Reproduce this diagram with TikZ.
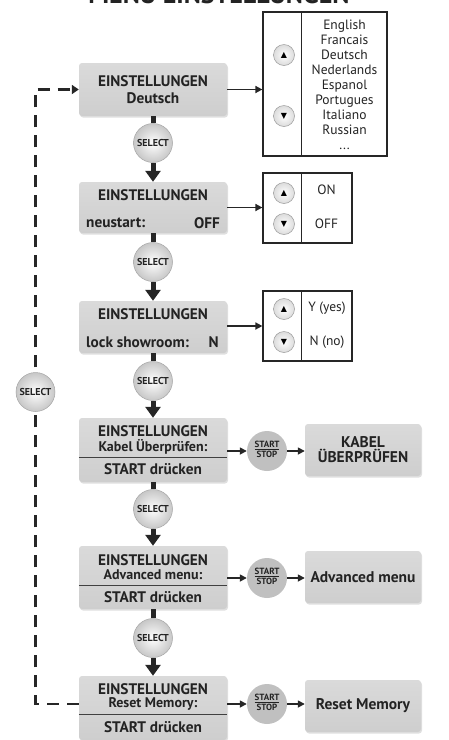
\documentclass[tikz,border=0pt]{standalone}
\usepackage{fontspec}
\setmainfont{PT Sans}
\newfontfamily\symfont{DejaVu Sans}
\usetikzlibrary{arrows.meta,shadows,calc}
\definecolor{boxtop}{RGB}{218,218,218}
\definecolor{boxbot}{RGB}{206,206,206}
\definecolor{ssgray}{RGB}{192,192,192}
\definecolor{txt}{RGB}{35,35,35}
\begin{document}
\begin{tikzpicture}[x=1pt,y=-1pt,
  menubox/.style={rectangle, rounded corners=3pt, top color=boxtop, bottom color=boxbot, draw=none,
    minimum width=148pt, inner sep=0,
    drop shadow={shadow xshift=1pt,shadow yshift=-1.5pt,opacity=0.25}},
  resbox/.style={menubox, minimum width=116pt, minimum height=52pt, align=center,
    font=\bfseries\fontsize{15.5}{15}\selectfont, text=txt},
  hdr/.style={inner sep=0, font=\bfseries\fontsize{15.3}{17}\selectfont, text=txt},
  sub/.style={inner sep=0, font=\bfseries\fontsize{14}{15}\selectfont, text=txt},
  selbtn/.style={circle, minimum size=39pt, inner sep=0, draw=black!35, line width=0.5pt,
    inner color=white, outer color=black!22, font=\bfseries\fontsize{10}{10}\selectfont, text=txt},
  ssbtn/.style={circle, minimum size=40pt, inner sep=0, fill=ssgray, text=txt,
    font=\bfseries\fontsize{9}{9}\selectfont},
  udbtn/.style={circle, minimum size=21pt, inner sep=0, draw=black!40, line width=0.5pt,
    inner color=white, outer color=black!14, font=\symfont\fontsize{8}{8}\selectfont},
  listbox/.style={rectangle, draw=black!85, line width=1.2pt, inner sep=0},
  listtxt/.style={inner sep=0, font=\fontsize{13.5}{15}\selectfont, text=txt, align=center},
  stub/.style={line width=5pt, black!85},
  bigarrow/.style={line width=5pt, black!85, -{Triangle[width=15pt,length=11pt]}},
  smallarrow/.style={line width=1.6pt, black!85, -{Triangle[width=7pt,length=7pt]}},
  dashconn/.style={line width=2.8pt, black!85, dash pattern=on 12pt off 8pt, -{Triangle[width=9pt,length=7pt]}}
]
\useasboundingbox (0,0) rectangle (449,740);
\node[anchor=base, font=\bfseries\fontsize{26}{26}\selectfont, text=txt, inner sep=0] (title) at (219,3) {MENÜ EINSTELLUNGEN};

% main boxes
\node[menubox, minimum height=53pt] (b1) at (153,89.5) {};
\node[menubox, minimum height=51pt] (b2) at (153,207.5) {};
\node[menubox, minimum height=52pt] (b3) at (153,327) {};
\node[menubox, minimum height=64pt] (b4) at (153,450) {};
\node[menubox, minimum height=63pt] (b5) at (153,577.5) {};
\node[menubox, minimum height=64pt] (b6) at (153,708) {};

% box texts
\node[hdr] (b1t) at (153,81) {EINSTELLUNGEN};
\node[hdr] (b1v) at (153,98.5) {Deutsch};
\node[hdr] (b2t) at (153,195) {EINSTELLUNGEN};
\node[hdr, anchor=west] (b2l) at (86,223) {neustart:};
\node[hdr, anchor=east] (b2r) at (220,223) {OFF};
\node[hdr] (b3t) at (153,314) {EINSTELLUNGEN};
\node[hdr, anchor=west] (b3l) at (86,342) {lock showroom:};
\node[hdr, anchor=east] (b3r) at (219,342) {N};
\node[hdr] (b4t) at (153,431) {EINSTELLUNGEN};
\node[sub] (b4s) at (153,447) {Kabel Überprüfen:};
\node[hdr] (b4b) at (153,469) {START drücken};
\node[hdr] (b5t) at (153,560) {EINSTELLUNGEN};
\node[sub] (b5s) at (153,575) {Advanced menu:};
\node[hdr] (b5b) at (153,597) {START drücken};
\node[hdr] (b6t) at (153,689) {EINSTELLUNGEN};
\node[sub] (b6s) at (153,704) {Reset Memory:};
\node[hdr] (b6b) at (153,727) {START drücken};
\draw[black!75, line width=0.8pt] ($(b4.west)+(0,7)$) -- ($(b4.east)+(0,7)$);
\draw[black!75, line width=0.8pt] ($(b5.west)+(0,7.5)$) -- ($(b5.east)+(0,7.5)$);
\draw[black!75, line width=0.8pt] ($(b6.west)+(0,6)$) -- ($(b6.east)+(0,6)$);

% select buttons
\node[selbtn] (s1) at (153,143) {SELECT};
\node[selbtn] (s2) at (153,262) {SELECT};
\node[selbtn] (s3) at (153,381) {SELECT};
\node[selbtn] (s4) at (153,509) {SELECT};
\node[selbtn] (s5) at (153,638) {SELECT};

\draw[stub] (b1.south) -- (s1.north);
\draw[bigarrow] (s1.south) -- (b2.north);
\draw[stub] (b2.south) -- (s2.north);
\draw[bigarrow] (s2.south) -- (b3.north);
\draw[stub] (b3.south) -- (s3.north);
\draw[bigarrow] (s3.south) -- (b4.north);
\draw[stub] (b4.south) -- (s4.north);
\draw[bigarrow] (s4.south) -- (b5.north);
\draw[stub] (b5.south) -- (s5.north);
\draw[bigarrow] (s5.south) -- (b6.north);

% language list
\node[listbox, minimum width=124pt, minimum height=144pt] (lang) at (325,84) {};
\draw[black!85, line width=1pt] ($(lang.north west)+(39,0)$) -- ($(lang.south west)+(39,0)$);
\node[listtxt] (langt) at (344.5,85) {English\\Francais\\Deutsch\\Nederlands\\Espanol\\Portugues\\Italiano\\Russian\\...};
\node[udbtn] (lu) at (284,55) {▲};
\node[udbtn] (ld) at (284,116) {▼};
\draw[smallarrow] (b1.east) -- (b1.east -| lang.west);

% on/off
\node[listbox, minimum width=89pt, minimum height=70pt] (onoff) at (307.5,208) {};
\draw[black!85, line width=1pt] ($(onoff.north west)+(39,0)$) -- ($(onoff.south west)+(39,0)$);
\node[listtxt] (on) at (326.5,190) {ON};
\node[listtxt] (off) at (326.5,224) {OFF};
\node[udbtn] (ou) at (284,193) {▲};
\node[udbtn] (od) at (284,224) {▼};
\draw[smallarrow] (b2.east) -- (b2.east -| onoff.west);

% yes/no
\node[listbox, minimum width=89pt, minimum height=70pt] (yn) at (307.5,326) {};
\draw[black!85, line width=1pt] ($(yn.north west)+(39,0)$) -- ($(yn.south west)+(39,0)$);
\node[listtxt] (yes) at (327,308) {Y (yes)};
\node[listtxt] (no) at (327,342) {N (no)};
\node[udbtn] (yu) at (284,309) {▲};
\node[udbtn] (yd) at (284,342) {▼};
\draw[smallarrow] (b3.east |- yn) -- (yn.west);

% start/stop
\node[ssbtn] (ss1) at (267,451) {\begin{tabular}{@{}c@{}}START\\[-1.5pt]\hline\rule{0pt}{8.5pt}STOP\end{tabular}};
\node[ssbtn] (ss2) at (267,578) {\begin{tabular}{@{}c@{}}START\\[-1.5pt]\hline\rule{0pt}{8.5pt}STOP\end{tabular}};
\node[ssbtn] (ss3) at (267,704) {\begin{tabular}{@{}c@{}}START\\[-1.5pt]\hline\rule{0pt}{8.5pt}STOP\end{tabular}};
\node[resbox] (r1) at (363,450) {KABEL\\ÜBERPRÜFEN};
\node[resbox] (r2) at (363,577) {Advanced menu};
\node[resbox] (r3) at (363,706) {Reset Memory};
\draw[smallarrow] (ss1 -| b4.east) -- (ss1.west);
\draw[smallarrow] (ss1.east) -- (ss1 -| r1.west);
\draw[smallarrow] (ss2 -| b5.east) -- (ss2.west);
\draw[smallarrow] (ss2.east) -- (ss2 -| r2.west);
\draw[smallarrow] (ss3 -| b6.east) -- (ss3.west);
\draw[smallarrow] (ss3.east) -- (ss3 -| r3.west);

% dashed return
\coordinate (c1) at (35.5,704);
\coordinate (c2) at (35.5,89.5);
\draw[dashconn] (ss3 -| b6.west) -- (c1) -- (c2) -- (b1.west);
\node[selbtn] (s0) at (35.5,392) {SELECT};
\end{tikzpicture}
\end{document}
